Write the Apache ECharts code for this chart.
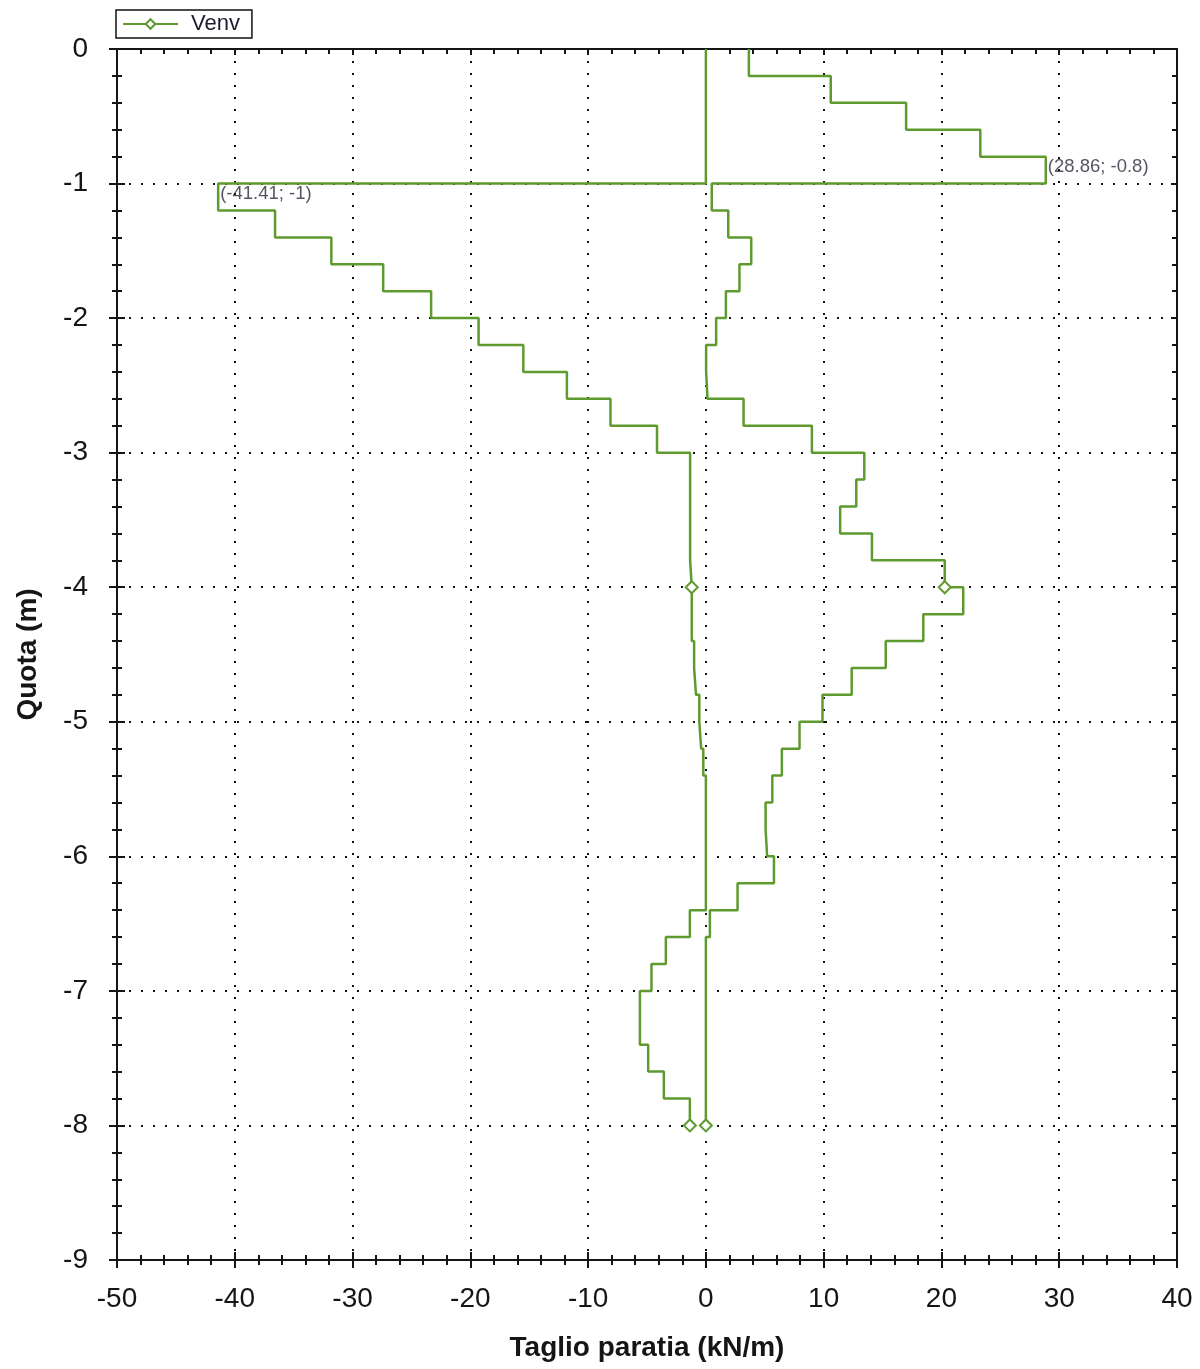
<!DOCTYPE html>
<html>
<head>
<meta charset="utf-8">
<title>Venv</title>
<script src="https://cdn.jsdelivr.net/npm/echarts@6/dist/echarts.min.js"></script>
<style>
  html, body { margin: 0; padding: 0; background: #fff; }
  #chart { width: 1200px; height: 1369px; }
</style>
</head>
<body>
<div id="chart"></div>
<script>
// Quota levels (m): boundaries of the 0.2 m intervals along the wall
const quota = [0, -0.2, -0.4, -0.6, -0.8, -1, -1.2, -1.4, -1.6, -1.8, -2, -2.2, -2.4, -2.6, -2.8,
  -3, -3.2, -3.4, -3.6, -3.8, -4, -4.2, -4.4, -4.6, -4.8, -5, -5.2, -5.4, -5.6, -5.8,
  -6, -6.2, -6.4, -6.6, -6.8, -7, -7.2, -7.4, -7.6, -7.8, -8];

// Shear envelope (kN/m), one value per interval: upper and lower bound
const venvMax = [3.65, 10.6, 17.0, 23.3, 28.86, 0.5, 1.9, 3.85, 2.85, 1.7,
  0.87, 0.02, 0.14, 3.2, 9.0, 13.45, 12.77, 11.4, 14.1, 20.28,
  21.85, 18.46, 15.27, 12.38, 9.9, 7.95, 6.45, 5.64, 5.07, 5.2,
  5.78, 2.69, 0.34, 0, 0, 0, 0, 0, 0, 0];
const venvMin = [0, 0, 0, 0, 0, -41.41, -36.58, -31.8, -27.4, -23.33,
  -19.3, -15.5, -11.8, -8.1, -4.15, -1.34, -1.34, -1.34, -1.34, -1.2,
  -1.2, -1.2, -1.0, -0.84, -0.56, -0.4, -0.22, 0, 0, 0,
  0, 0, -1.36, -3.4, -4.62, -5.6, -5.6, -4.9, -3.57, -1.36];

// Quota levels where a marker is drawn on each envelope
const markerQuota = [-4, -8];

// Axis ticks
const xTicks = { min: -50, max: 40, step: 10 };
const yTicks = { min: -9, max: 0, step: 1 };

const GREEN = '#5e9a2e';
const INK = '#151515';

// Builds a stepped path: each interval holds its value from top to bottom level
function stepPath(values) {
  const pts = [];
  values.forEach((v, i) => {
    pts.push({ value: [v, quota[i]], symbol: 'none' });
    const bottom = { value: [v, quota[i + 1]], symbol: 'none' };
    if (markerQuota.indexOf(quota[i + 1]) >= 0) delete bottom.symbol;
    pts.push(bottom);
  });
  return pts;
}

function extremeLabel(values, pickMax) {
  let idx = 0;
  values.forEach((v, i) => {
    if (pickMax ? v > values[idx] : v < values[idx]) idx = i;
  });
  return [values[idx], quota[idx]];
}

const peaks = [extremeLabel(venvMax, true), extremeLabel(venvMin, false)];

const tickLabelStyle = { fontFamily: 'Liberation Sans, Arial, sans-serif', fontSize: 28, color: INK };
const dotted = { show: true, lineStyle: { color: '#111', width: 2, type: [2, 10] } };

function xAxisBase(extra) {
  return Object.assign({
    type: 'value', min: xTicks.min, max: xTicks.max, interval: xTicks.step,
    axisLine: { onZero: false, show: false }, axisLabel: { show: false },
    splitLine: { show: false }, minorSplitLine: { show: false }
  }, extra);
}
function yAxisBase(extra) {
  return Object.assign({
    type: 'value', min: yTicks.min, max: yTicks.max, interval: yTicks.step,
    axisLine: { onZero: false, show: false }, axisLabel: { show: false },
    splitLine: { show: false }, minorSplitLine: { show: false }
  }, extra);
}

const chart = echarts.init(document.getElementById('chart'), null, { renderer: 'canvas' });

chart.setOption({
  animation: false,
  backgroundColor: '#fff',
  grid: { left: 117, right: 23, top: 49, bottom: 109 },
  legend: {
    data: ['Venv'],
    left: 116, top: 10,
    padding: [3, 12, 3, 6],
    borderColor: '#111', borderWidth: 1.5,
    itemWidth: 55, itemHeight: 12,
    textStyle: { fontFamily: 'Liberation Sans, Arial, sans-serif', fontSize: 22, color: '#1c1c30', padding: [0, 0, 0, 8] }
  },
  xAxis: [
    xAxisBase({
      position: 'bottom',
      name: 'Taglio paratia (kN/m)', nameLocation: 'middle', nameGap: 74,
      nameTextStyle: { fontFamily: 'Liberation Sans, Arial, sans-serif', fontSize: 28, fontWeight: 'bold', color: INK },
      axisLine: { onZero: false, show: true, lineStyle: { color: INK, width: 2 } },
      axisTick: { inside: true, length: 8, lineStyle: { color: INK, width: 2 } },
      minorTick: { show: true, splitNumber: 5, length: 5, lineStyle: { color: INK, width: 2 } },
      axisLabel: Object.assign({ show: true, margin: 25 }, tickLabelStyle),
      splitLine: dotted
    }),
    xAxisBase({
      position: 'bottom',
      axisTick: { inside: false, length: 8, lineStyle: { color: INK, width: 2 } },
      minorTick: { show: true, splitNumber: 5, length: 5, lineStyle: { color: INK, width: 2 } }
    }),
    xAxisBase({
      position: 'top',
      axisLine: { onZero: false, show: true, lineStyle: { color: INK, width: 2 } },
      axisTick: { inside: true, length: 6, lineStyle: { color: INK, width: 2 } },
      minorTick: { show: true, splitNumber: 5, length: 5, lineStyle: { color: INK, width: 2 } }
    })
  ],
  yAxis: [
    yAxisBase({
      position: 'left',
      name: 'Quota (m)', nameLocation: 'middle', nameGap: 75, nameRotate: 90,
      nameTextStyle: { fontFamily: 'Liberation Sans, Arial, sans-serif', fontSize: 28, fontWeight: 'bold', color: INK },
      axisLine: { onZero: false, show: true, lineStyle: { color: INK, width: 2 } },
      axisTick: { inside: true, length: 8, lineStyle: { color: INK, width: 2 } },
      minorTick: { show: true, splitNumber: 5, length: 5, lineStyle: { color: INK, width: 2 } },
      axisLabel: Object.assign({ show: true, margin: 29 }, tickLabelStyle),
      splitLine: dotted
    }),
    yAxisBase({
      position: 'left',
      axisTick: { inside: false, length: 8, lineStyle: { color: INK, width: 2 } },
      minorTick: { show: true, splitNumber: 5, length: 5, lineStyle: { color: INK, width: 2 } }
    }),
    yAxisBase({
      position: 'right',
      axisLine: { onZero: false, show: true, lineStyle: { color: INK, width: 2 } },
      axisTick: { inside: true, length: 6, lineStyle: { color: INK, width: 2 } },
      minorTick: { show: true, splitNumber: 5, length: 5, lineStyle: { color: INK, width: 2 } }
    })
  ],
  series: [
    {
      name: 'Venv', type: 'line', xAxisIndex: 0, yAxisIndex: 0,
      data: stepPath(venvMax),
      symbol: 'emptyDiamond', symbolSize: 12, showAllSymbol: true,
      lineStyle: { color: GREEN, width: 2.5 },
      itemStyle: { color: GREEN, borderWidth: 1.5 },
      z: 3
    },
    {
      name: 'Venv', type: 'line', xAxisIndex: 0, yAxisIndex: 0,
      data: stepPath(venvMin),
      symbol: 'emptyDiamond', symbolSize: 12, showAllSymbol: true,
      lineStyle: { color: GREEN, width: 2.5 },
      itemStyle: { color: GREEN, borderWidth: 1.5 },
      z: 3
    },
    {
      name: 'peaks', type: 'scatter', xAxisIndex: 0, yAxisIndex: 0,
      data: peaks,
      symbolSize: 2,
      itemStyle: { color: 'rgba(0,0,0,0)' },
      label: {
        show: true, position: [3, 2],
        fontFamily: 'Liberation Sans, Arial, sans-serif', fontSize: 18.5, color: '#2a2a3a',
        formatter: p => '(' + p.value[0] + '; ' + p.value[1] + ')'
      },
      z: 4
    }
  ]
});
</script>
</body>
</html>
